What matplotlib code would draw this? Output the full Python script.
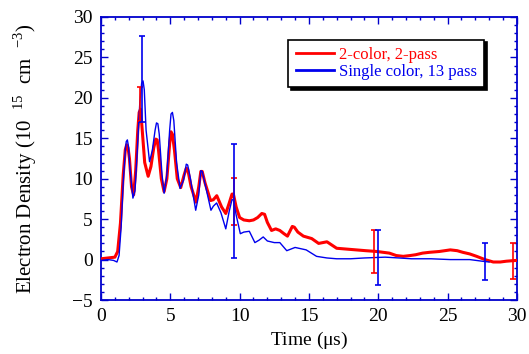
import matplotlib
matplotlib.use("Agg")
import matplotlib.pyplot as plt
from matplotlib.ticker import MultipleLocator

plt.rcParams['font.family'] = ['Liberation Serif', 'DejaVu Serif']

# 2-color, 2-pass trace (time in us, density in 1e15 cm^-3)
red_t = [0, 0.5, 1.0, 1.2, 1.4, 1.6, 1.75, 1.85, 1.95, 2.05, 2.2, 2.35, 2.5, 2.65, 2.75, 2.85,
         2.95, 3.15, 3.4, 3.6, 3.8, 3.95, 4.05, 4.15, 4.35, 4.55, 4.75, 4.95, 5.05, 5.15,
         5.3, 5.5, 5.75, 6.0, 6.15, 6.25, 6.5, 6.85, 7.05, 7.2, 7.3, 7.5, 7.9, 8.1, 8.35,
         8.7, 9.0, 9.25, 9.45, 9.55, 9.75, 10.0, 10.3, 10.7, 11.0, 11.3, 11.6, 11.8, 12.0,
         12.3, 12.6, 12.9, 13.2, 13.45, 13.8, 13.95, 14.2, 14.6, 15.2, 15.7, 16.3, 17.0,
         17.7, 18.4, 19.1, 19.9, 20.8, 21.3, 21.8, 22.3, 22.7, 23.2, 23.7, 24.4, 25.2,
         25.7, 26.1, 26.6, 27.1, 27.7, 28.3, 28.8, 29.25, 30.0]
red_n = [0.1, 0.2, 0.3, 1.0, 4.5, 10.5, 13.6, 14.2, 13.8, 12.5, 9.0, 8.0, 11.0, 16.0, 18.2, 18.6,
         16.5, 12.0, 10.3, 11.5, 13.8, 14.9, 14.8, 13.5, 10.0, 8.4, 10.0, 14.3, 15.8, 15.5,
         13.5, 10.0, 8.9, 10.5, 11.3, 11.2, 9.0, 7.1, 9.0, 10.9, 10.9, 9.5, 7.3, 7.4, 7.9,
         6.5, 5.7, 7.0, 8.1, 8.1, 6.5, 5.2, 4.9, 4.8, 4.9, 5.2, 5.7, 5.6, 4.6,
         3.6, 3.8, 3.6, 3.2, 2.9, 4.1, 4.0, 3.4, 2.9, 2.6, 2.0, 2.2, 1.4,
         1.3, 1.2, 1.1, 1.0, 0.8, 0.5, 0.4, 0.5, 0.6, 0.8, 0.9, 1.0, 1.2,
         1.1, 0.9, 0.7, 0.4, 0.0, -0.3, -0.3, -0.2, -0.1]

# single color, 13 pass trace
blue_t = [0, 0.5, 0.9, 1.15, 1.3, 1.45, 1.6, 1.75, 1.82, 1.9, 1.98, 2.1, 2.3, 2.45, 2.6, 2.8,
          2.93, 3.03, 3.12, 3.25, 3.5, 3.7, 3.9, 4.0, 4.1, 4.2, 4.4, 4.55, 4.75, 4.95, 5.05,
          5.15, 5.25, 5.45, 5.7, 5.95, 6.15, 6.25, 6.45, 6.83, 7.05, 7.2, 7.3, 7.55, 7.93,
          8.1, 8.34, 8.65, 9.0, 9.25, 9.45, 9.55, 9.75, 10.05, 10.3, 10.7, 11.1, 11.4, 11.7,
          12.0, 12.5, 12.9, 13.4, 14.0, 14.8, 15.55, 16.3, 17.0, 18.0, 19.0, 20.5, 21.5,
          22.4, 23.8, 25.2, 26.6, 27.5, 28.0]
blue_n = [-0.1, 0.0, -0.1, -0.3, 0.5, 4.0, 9.5, 13.5, 14.6, 14.8, 14.0, 11.0, 7.6, 8.5, 13.0, 19.5,
          21.8, 22.1, 21.0, 16.0, 12.1, 13.5, 16.0, 16.9, 16.8, 15.5, 10.5, 8.2, 10.5, 16.0, 18.0,
          18.2, 17.2, 12.0, 8.8, 9.8, 11.8, 11.7, 10.0, 6.1, 8.0, 11.0, 10.9, 9.0, 6.1,
          6.6, 7.0, 5.8, 3.8, 6.0, 7.4, 7.4, 5.5, 3.2, 3.4, 3.5, 2.1, 2.4, 2.8,
          2.3, 2.1, 2.1, 1.1, 1.5, 1.2, 0.4, 0.2, 0.1, 0.1, 0.2, 0.3, 0.2,
          0.1, 0.1, 0.0, 0.0, -0.2, -0.3]

# error bars
red_err_t = [2.8, 9.6, 19.7, 29.7]
red_err_n = [19.2, 7.2, 1.0, -0.2]
red_err = [2.1, 2.9, 2.7, 2.2]
blue_err_t = [2.98, 9.6, 20.0, 27.7]
blue_err_n = [22.3, 7.25, 0.3, -0.25]
blue_err = [5.3, 7.0, 3.4, 2.25]

RED = '#ff0000'
BLUE = '#0000ee'
AXC = '#0000cc'

fig = plt.figure(figsize=(5.29, 3.54), dpi=100)
ax = fig.add_axes([0.191, 0.1525, 0.786, 0.7995])

ax.plot(red_t, red_n, color=RED, lw=2.2, label='2-color, 2-pass', zorder=3)
ax.plot(blue_t, blue_n, color=BLUE, lw=1.0, label='Single color, 13 pass', zorder=4)
ax.errorbar(red_err_t, red_err_n, yerr=red_err, fmt='none', ecolor=RED,
            elinewidth=1.2, capsize=2.5, capthick=1.2, zorder=5)
ax.errorbar(blue_err_t, blue_err_n, yerr=blue_err, fmt='none', ecolor=BLUE,
            elinewidth=1.2, capsize=2.5, capthick=1.2, zorder=6)

ax.set_xlim(0, 30)
ax.set_ylim(-5, 30)
ax.xaxis.set_major_locator(MultipleLocator(5))
ax.xaxis.set_minor_locator(MultipleLocator(1))
ax.yaxis.set_major_locator(MultipleLocator(5))
ax.yaxis.set_minor_locator(MultipleLocator(1))
ax.tick_params(which='both', direction='in', top=True, right=True, color=AXC,
               labelsize=14, pad=6)
ax.tick_params(which='major', length=5, width=1)
ax.tick_params(which='minor', length=2.5, width=1)
for s in ax.spines.values():
    s.set_color(AXC)
    s.set_linewidth(1.3)

ax.set_xlabel(r'Time ($\mathregular{\mu}$s)', fontsize=14, labelpad=3)
ax.set_ylabel(r'Electron Density (10  $^{\mathregular{15}}$  cm  $^{\mathregular{-3}}$)',
              fontsize=15, labelpad=24)

leg = ax.legend(loc='upper left', bbox_to_anchor=(0.45, 0.92), borderaxespad=0,
                fontsize=12, handlelength=2.3, handletextpad=0.3, labelspacing=0.05,
                fancybox=False, framealpha=1, edgecolor='black',
                shadow={'color': 'black', 'alpha': 1}, borderpad=0.45)
leg.get_frame().set_linewidth(1.2)
for txt, c in zip(leg.get_texts(), [RED, BLUE]):
    txt.set_color(c)
for ln in leg.get_lines():
    ln.set_linewidth(2.0)

fig.savefig('out.png', dpi=100)
